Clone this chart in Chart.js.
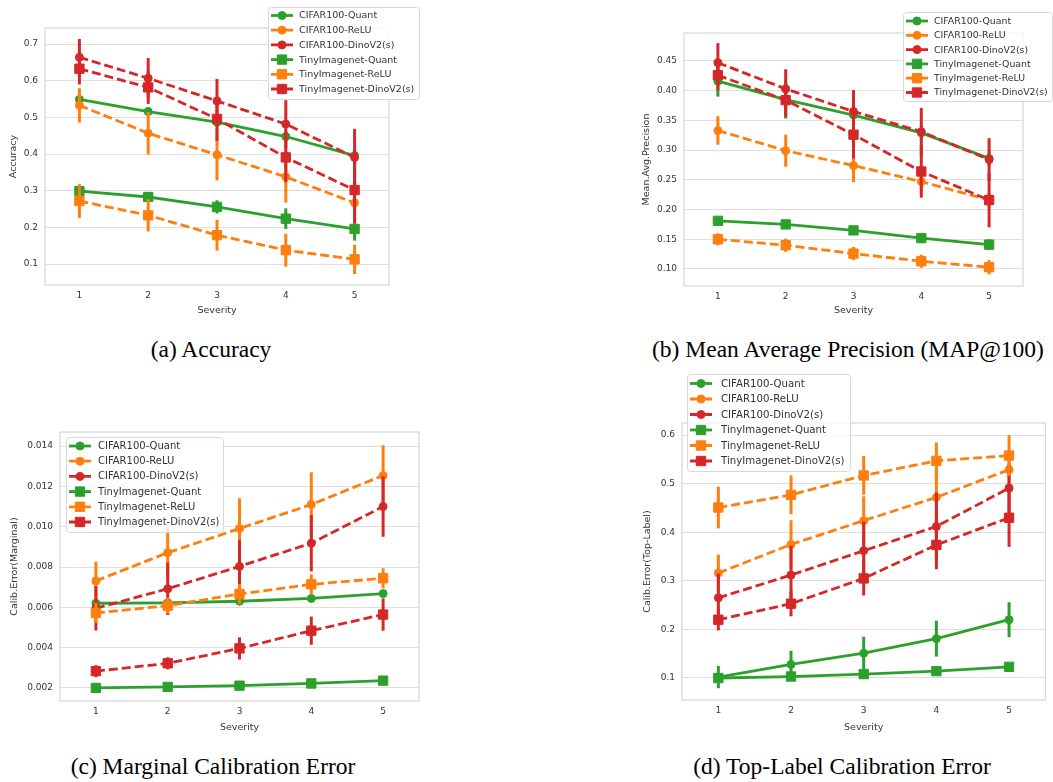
<!DOCTYPE html>
<html>
<head>
<meta charset="utf-8">
<script src="https://cdn.jsdelivr.net/npm/chart.js@4.4.1/dist/chart.umd.min.js"></script>
<style>
    body { margin: 0; background: #fff; width: 1053px; height: 782px; position: relative; overflow: hidden; }
    canvas { position: absolute; }
    .cap { position: absolute; width: 500px; text-align: center; white-space: nowrap;
           font-family: 'Liberation Serif', 'Times New Roman', serif; font-size: 23.5px; line-height: 26px; color: #000; }
</style>
</head>
<body>
<canvas id="accChart" width="430" height="316" style="left:0px;top:0px"></canvas>
<canvas id="mapChart" width="523" height="316" style="left:530px;top:0px"></canvas>
<canvas id="mceChart" width="430" height="353" style="left:0px;top:380px"></canvas>
<canvas id="tceChart" width="433" height="368" style="left:620px;top:365px"></canvas>
<div class="cap" style="left:-39px;top:336px">(a) Accuracy</div>
<div class="cap" style="left:598px;top:336px">(b) Mean Average Precision (MAP@100)</div>
<div class="cap" style="left:-37px;top:753px">(c) Marginal Calibration Error</div>
<div class="cap" style="left:592px;top:753px">(d) Top-Label Calibration Error</div>
<script>
// 데이터
const severity = ['1', '2', '3', '4', '5'];
const seriesLabels = ['CIFAR100-Quant', 'CIFAR100-ReLU', 'CIFAR100-DinoV2(s)',
                      'TinyImagenet-Quant', 'TinyImagenet-ReLU', 'TinyImagenet-DinoV2(s)'];

// (a) Accuracy
const accTicks = [0.1, 0.2, 0.3, 0.4, 0.5, 0.6, 0.7];
const accCifarQuant = [0.549, 0.516, 0.487, 0.448, 0.396];
const accCifarRelu  = [0.533, 0.457, 0.398, 0.338, 0.267];
const accCifarDino  = [0.664, 0.607, 0.545, 0.482, 0.391];
const accTinyQuant  = [0.299, 0.283, 0.256, 0.224, 0.196];
const accTinyRelu   = [0.272, 0.233, 0.179, 0.138, 0.113];
const accTinyDino   = [0.633, 0.582, 0.496, 0.391, 0.302];
const accCifarQuantErr = [0.010, 0.012, 0.012, 0.014, 0.018];
const accCifarReluErr  = [0.047, 0.058, 0.070, 0.070, 0.045];
const accCifarDinoErr  = [0.050, 0.055, 0.060, 0.065, 0.078];
const accTinyQuantErr  = [0.012, 0.010, 0.018, 0.028, 0.032];
const accTinyReluErr   = [0.046, 0.044, 0.042, 0.045, 0.040];
const accTinyDinoErr   = [0.043, 0.045, 0.060, 0.068, 0.090];

// (b) Mean Average Precision
const mapTicks = [0.10, 0.15, 0.20, 0.25, 0.30, 0.35, 0.40, 0.45];
const mapCifarQuant = [0.416, 0.385, 0.359, 0.329, 0.286];
const mapCifarRelu  = [0.333, 0.299, 0.274, 0.247, 0.216];
const mapCifarDino  = [0.447, 0.403, 0.365, 0.331, 0.284];
const mapTinyQuant  = [0.181, 0.175, 0.165, 0.152, 0.141];
const mapTinyRelu   = [0.150, 0.140, 0.126, 0.113, 0.103];
const mapTinyDino   = [0.426, 0.384, 0.326, 0.264, 0.216];
const mapCifarQuantErr = [0.026, 0.032, 0.014, 0.012, 0.012];
const mapCifarReluErr  = [0.024, 0.027, 0.028, 0.016, 0.012];
const mapCifarDinoErr  = [0.033, 0.033, 0.036, 0.040, 0.036];
const mapTinyQuantErr  = [0.004, 0.004, 0.006, 0.008, 0.009];
const mapTinyReluErr   = [0.010, 0.011, 0.011, 0.011, 0.012];
const mapTinyDinoErr   = [0.025, 0.028, 0.040, 0.044, 0.046];

// (c) Marginal Calibration Error
const mceTicks = [0.002, 0.004, 0.006, 0.008, 0.010, 0.012, 0.014];
const mceCifarQuant = [0.00620, 0.00622, 0.00630, 0.00644, 0.00668];
const mceCifarRelu  = [0.00731, 0.00871, 0.00991, 0.01110, 0.01254];
const mceCifarDino  = [0.00595, 0.00692, 0.00803, 0.00918, 0.01100];
const mceTinyQuant  = [0.00200, 0.00205, 0.00211, 0.00222, 0.00236];
const mceTinyRelu   = [0.00572, 0.00608, 0.00666, 0.00714, 0.00744];
const mceTinyDino   = [0.00283, 0.00322, 0.00396, 0.00484, 0.00564];
const mceCifarQuantErr = [0.00012, 0.00010, 0.00010, 0.00012, 0.00012];
const mceCifarReluErr  = [0.00095, 0.00130, 0.00150, 0.00160, 0.00150];
const mceCifarDinoErr  = [0.00110, 0.00130, 0.00130, 0.00140, 0.00150];
const mceTinyQuantErr  = [0.00005, 0.00005, 0.00005, 0.00006, 0.00006];
const mceTinyReluErr   = [0.00050, 0.00040, 0.00050, 0.00050, 0.00050];
const mceTinyDinoErr   = [0.00030, 0.00030, 0.00055, 0.00070, 0.00080];

// (d) Top-Label Calibration Error
const tceTicks = [0.1, 0.2, 0.3, 0.4, 0.5, 0.6];
const tceCifarQuant = [0.102, 0.128, 0.151, 0.181, 0.220];
const tceCifarRelu  = [0.316, 0.375, 0.424, 0.472, 0.529];
const tceCifarDino  = [0.265, 0.312, 0.362, 0.412, 0.491];
const tceTinyQuant  = [0.100, 0.103, 0.108, 0.114, 0.123];
const tceTinyRelu   = [0.451, 0.477, 0.517, 0.547, 0.558];
const tceTinyDino   = [0.220, 0.253, 0.305, 0.374, 0.430];
const tceCifarQuantErr = [0.023, 0.028, 0.034, 0.037, 0.036];
const tceCifarReluErr  = [0.038, 0.050, 0.050, 0.058, 0.030];
const tceCifarDinoErr  = [0.050, 0.060, 0.060, 0.070, 0.050];
const tceTinyQuantErr  = [0.005, 0.005, 0.005, 0.006, 0.008];
const tceTinyReluErr   = [0.043, 0.040, 0.040, 0.038, 0.042];
const tceTinyDinoErr   = [0.022, 0.026, 0.035, 0.050, 0.060];

// 스타일
Chart.defaults.font.family = "'DejaVu Sans', sans-serif";
Chart.defaults.color = '#333333';
const GREEN = '#2ca02c', ORANGE = '#ff7f0e', RED = '#d62728';
const seriesColors = [GREEN, ORANGE, RED, GREEN, ORANGE, RED];
const seriesMarkers = ['circle', 'circle', 'circle', 'rect', 'rect', 'rect'];
const seriesDashes = [[], [9, 4], [9, 4], [], [9, 4], [9, 4]];

// 에러바 그리기
const errorBars = {
    id: 'errorBars',
    beforeDatasetDraw(chart, args) {
        const ds = chart.data.datasets[args.index];
        if (!ds.err) return;
        const y = chart.scales.y;
        const ctx = chart.ctx;
        ctx.save();
        ctx.setLineDash([]);
        ctx.strokeStyle = ds.borderColor;
        ctx.lineWidth = 3;
        args.meta.data.forEach((pt, j) => {
            ctx.beginPath();
            ctx.moveTo(pt.x, y.getPixelForValue(ds.data[j] - ds.err[j]));
            ctx.lineTo(pt.x, y.getPixelForValue(ds.data[j] + ds.err[j]));
            ctx.stroke();
        });
        ctx.restore();
    }
};

// 플롯 테두리
const plotFrame = {
    id: 'plotFrame',
    beforeDatasetsDraw(chart) {
        const { ctx, chartArea: a } = chart;
        ctx.save();
        ctx.strokeStyle = '#d6d6d6';
        ctx.lineWidth = 1.2;
        ctx.strokeRect(a.left, a.top, a.right - a.left, a.bottom - a.top);
        ctx.restore();
    }
};

// 범례 박스
const boxLegend = {
    id: 'boxLegend',
    afterDraw(chart, args, opts) {
        const ctx = chart.ctx;
        ctx.save();
        ctx.fillStyle = 'rgba(255,255,255,0.8)';
        ctx.strokeStyle = '#d8d8d8';
        ctx.lineWidth = 1;
        ctx.beginPath();
        ctx.roundRect(opts.x + 0.5, opts.y + 0.5, opts.w, opts.h, 3);
        ctx.fill();
        ctx.stroke();
        ctx.font = opts.size + "px 'DejaVu Sans'";
        ctx.textBaseline = 'middle';
        chart.data.datasets.forEach((ds, i) => {
            const cy = opts.y + opts.top + i * opts.row;
            const x0 = opts.x + 3, x1 = opts.x + 25;
            ctx.strokeStyle = ds.borderColor;
            ctx.fillStyle = ds.borderColor;
            ctx.lineWidth = 2.8;
            ctx.setLineDash(ds.borderDash);
            ctx.beginPath();
            ctx.moveTo(x0, cy);
            ctx.lineTo(x1, cy);
            ctx.stroke();
            ctx.setLineDash([]);
            ctx.lineWidth = 1;
            Chart.helpers.drawPoint(ctx, { pointStyle: ds.pointStyle, radius: ds.pointRadius, borderWidth: 1 }, (x0 + x1) / 2, cy);
            ctx.fillStyle = '#333333';
            ctx.fillText(ds.label, opts.x + opts.textX, cy + 0.5);
        });
        ctx.restore();
    }
};

const makeDatasets = (values, errs) => values.map((v, i) => ({
    label: seriesLabels[i],
    data: v,
    err: errs[i],
    borderColor: seriesColors[i],
    backgroundColor: seriesColors[i],
    pointBackgroundColor: seriesColors[i],
    pointBorderColor: seriesColors[i],
    borderWidth: 2.8,
    borderDash: seriesDashes[i],
    pointStyle: seriesMarkers[i],
    pointRadius: seriesMarkers[i] === 'rect' ? 6.6 : 4,
    pointBorderWidth: 1,
    tension: 0,
    order: -i
}));

const drawPanel = (id, p) => {
    new Chart(document.getElementById(id), {
        type: 'line',
        data: { labels: severity, datasets: makeDatasets(p.values, p.errs) },
        options: {
            responsive: false,
            animation: false,
            events: [],
            layout: { padding: { left: p.padLeft, top: p.padTop, right: p.padRight, bottom: 0 } },
            plugins: {
                legend: { display: false },
                tooltip: { enabled: false },
                boxLegend: p.legend
            },
            scales: {
                x: {
                    type: 'category',
                    offset: true,
                    grid: { display: false, drawTicks: false },
                    border: { display: false },
                    ticks: { padding: 5, font: { size: 9 } },
                    title: { display: true, text: 'Severity', font: { size: 9.5 }, padding: { top: 0, bottom: 0 } },
                    afterFit: s => { s.height = p.xh; }
                },
                y: {
                    type: 'linear',
                    min: p.min,
                    max: p.max,
                    grid: { color: '#dedede', lineWidth: 1, drawTicks: false },
                    border: { display: false },
                    afterBuildTicks: s => { s.ticks = p.ticks.map(v => ({ value: v })); },
                    ticks: { padding: 7, font: { size: 9 }, callback: v => Number(v).toFixed(p.dec) },
                    title: { display: true, text: p.ytitle, font: { size: 9.5 }, padding: { top: 0, bottom: 0 } },
                    afterFit: s => { s.width = p.yw; }
                }
            }
        },
        plugins: [plotFrame, errorBars, boxLegend]
    });
};

drawPanel('accChart', {
    values: [accCifarQuant, accCifarRelu, accCifarDino, accTinyQuant, accTinyRelu, accTinyDino],
    errs: [accCifarQuantErr, accCifarReluErr, accCifarDinoErr, accTinyQuantErr, accTinyReluErr, accTinyDinoErr],
    ticks: accTicks, dec: 1, min: 0.043, max: 0.744, ytitle: 'Accuracy',
    padLeft: 8, yw: 37, padTop: 28, padRight: 41, xh: 31,
    legend: { x: 268, y: 7, w: 151, h: 92, top: 8.5, row: 14.7, size: 9.5, textX: 31 }
});

drawPanel('mapChart', {
    values: [mapCifarQuant, mapCifarRelu, mapCifarDino, mapTinyQuant, mapTinyRelu, mapTinyDino],
    errs: [mapCifarQuantErr, mapCifarReluErr, mapCifarDinoErr, mapTinyQuantErr, mapTinyReluErr, mapTinyDinoErr],
    ticks: mapTicks, dec: 2, min: 0.0714, max: 0.497, ytitle: 'Mean.Avg.Precision',
    padLeft: 111, yw: 43, padTop: 33, padRight: 30, xh: 30,
    legend: { x: 373, y: 12, w: 149, h: 89, top: 9, row: 14.3, size: 9.4, textX: 31 }
});

drawPanel('mceChart', {
    values: [mceCifarQuant, mceCifarRelu, mceCifarDino, mceTinyQuant, mceTinyRelu, mceTinyDino],
    errs: [mceCifarQuantErr, mceCifarReluErr, mceCifarDinoErr, mceTinyQuantErr, mceTinyReluErr, mceTinyDinoErr],
    ticks: mceTicks, dec: 3, min: 0.00135, max: 0.0147, ytitle: 'Calib.Error(Marginal)',
    padLeft: 9, yw: 51, padTop: 52, padRight: 11, xh: 32,
    legend: { x: 66, y: 57, w: 157, h: 95, top: 9, row: 15.2, size: 10, textX: 32 }
});

drawPanel('tceChart', {
    values: [tceCifarQuant, tceCifarRelu, tceCifarDino, tceTinyQuant, tceTinyRelu, tceTinyDino],
    errs: [tceCifarQuantErr, tceCifarReluErr, tceCifarDinoErr, tceTinyQuantErr, tceTinyReluErr, tceTinyDinoErr],
    ticks: tceTicks, dec: 1, min: 0.0547, max: 0.625, ytitle: 'Calib.Error(Top-Label)',
    padLeft: 22, yw: 40, padTop: 58, padRight: 1, xh: 33,
    legend: { x: 67, y: 9, w: 163, h: 97, top: 9.5, row: 15.5, size: 10.2, textX: 34 }
});
</script>
</body>
</html>
